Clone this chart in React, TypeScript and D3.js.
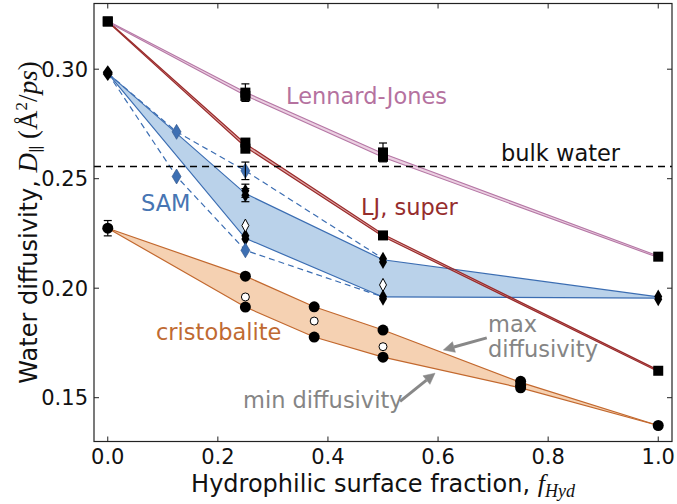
import React from 'react';
import * as d3 from 'd3';

// fraction of hydrophilic surface
const ljX = [0, 0.25, 0.5, 1.0];
const ljMax = [0.322, 0.2895, 0.2615, 0.2147];
const ljMin = [0.3216, 0.288, 0.2598, 0.214];
const ljSuperMax = [0.322, 0.266, 0.2246, 0.1626];
const ljSuperMin = [0.3216, 0.2645, 0.2236, 0.162];

const ljPtsX = [0, 0.25, 0.25, 0.5, 0.5, 1.0];
const ljPtsY = [0.3218, 0.2893, 0.2878, 0.262, 0.26, 0.2144];
const ljPtsErr = [0, 0.004, 0, 0.0043, 0, 0];
const ljSuperPtsX = [0, 0.25, 0.25, 0.5, 1.0];
const ljSuperPtsY = [0.3218, 0.2665, 0.2637, 0.2241, 0.1623];

const samX = [0, 0.25, 0.5, 1.0];
const samMax = [0.2982, 0.2432, 0.213, 0.196];
const samMin = [0.2982, 0.2228, 0.196, 0.1955];
const samDashX = [0, 0.125, 0.25, 0.5];
const samDashUpper = [0.2982, 0.2714, 0.2536, 0.2135];
const samDashLower = [0.2982, 0.251, 0.2173, 0.196];

const samBlackX = [0, 0, 0.25, 0.25, 0.25, 0.25, 0.5, 0.5, 0.5, 0.5, 1.0, 1.0];
const samBlackY = [0.2986, 0.2978, 0.2445, 0.2425, 0.224, 0.2225, 0.2135, 0.212, 0.1962, 0.1952, 0.1962, 0.195];
const samBlackErr = [0, 0, 0.003, 0.003, 0, 0, 0, 0, 0, 0, 0, 0];
const samOpenX = [0.25, 0.5];
const samOpenY = [0.2286, 0.2015];
const samBlueX = [0.125, 0.125, 0.25, 0.25];
const samBlueY = [0.2714, 0.251, 0.2536, 0.2173];
const samBlueErr = [0, 0, 0.004, 0];

const cristX = [0, 0.25, 0.375, 0.5, 0.75, 1.0];
const cristMax = [0.2274, 0.2055, 0.1915, 0.1809, 0.157, 0.1373];
const cristMin = [0.2274, 0.1914, 0.1777, 0.1685, 0.1545, 0.1373];
const cristPtsX = [0, 0.25, 0.25, 0.375, 0.375, 0.5, 0.5, 0.75, 0.75, 0.75, 1.0];
const cristPtsY = [0.2274, 0.2055, 0.1914, 0.1915, 0.1777, 0.1809, 0.1685, 0.1575, 0.1557, 0.1545, 0.1373];
const cristPtsErr = [0.0035, 0, 0, 0, 0, 0, 0, 0, 0, 0, 0];
const cristOpenX = [0.25, 0.375, 0.5];
const cristOpenY = [0.196, 0.185, 0.1733];

const bulkWater = 0.2556;
const xTicks = [0, 0.2, 0.4, 0.6, 0.8, 1.0];
const yTicks = [0.15, 0.2, 0.25, 0.3];

const W = 677;
const H = 504;
const margin = { top: 3.5, right: 5, bottom: 62.5, left: 94 };

const font = '"DejaVu Sans", sans-serif';
const mathFont = '"Liberation Serif", "DejaVu Serif", serif';

const x = d3.scaleLinear().domain([-0.025, 1.025]).range([margin.left, W - margin.right]);
const y = d3.scaleLinear().domain([0.13, 0.33]).range([H - margin.bottom, margin.top]);

type Pt = [number, number];
const zip = (xs: number[], ys: number[]): Pt[] => xs.map((v, i) => [v, ys[i]]);

const line = d3.line<Pt>().x(d => x(d[0])).y(d => y(d[1]));
const band = (xs: number[], hi: number[], lo: number[]) =>
  d3.area<number>()
    .x(i => x(xs[i]))
    .y0(i => y(lo[i]))
    .y1(i => y(hi[i]))(xs.map((_, i) => i)) ?? '';

const ErrBar: React.FC<{ cx: number; cy: number; err: number }> = ({ cx, cy, err }) => {
  if (!err) return null;
  const px = x(cx);
  const y1 = y(cy + err);
  const y2 = y(cy - err);
  return (
    <g stroke="#000" strokeWidth={1.2}>
      <line x1={px} x2={px} y1={y1} y2={y2} />
      <line x1={px - 4} x2={px + 4} y1={y1} y2={y1} />
      <line x1={px - 4} x2={px + 4} y1={y2} y2={y2} />
    </g>
  );
};

const diamond = (w: number, h: number) => `M0,${-h}L${w},0L0,${h}L${-w},0Z`;

const Arrow: React.FC<{ from: Pt; to: Pt }> = ({ from, to }) => {
  const x1 = x(from[0]), y1 = y(from[1]);
  const x2 = x(to[0]), y2 = y(to[1]);
  const ang = Math.atan2(y2 - y1, x2 - x1);
  const hl = 11, hw = 5.5;
  const bx = x2 - hl * Math.cos(ang), by = y2 - hl * Math.sin(ang);
  const nx = -Math.sin(ang), ny = Math.cos(ang);
  return (
    <g fill="#888" stroke="#888">
      <line x1={x1} y1={y1} x2={bx} y2={by} strokeWidth={3} />
      <path d={`M${x2},${y2}L${bx + nx * hw},${by + ny * hw}L${bx - nx * hw},${by - ny * hw}Z`} strokeWidth={0.5} />
    </g>
  );
};

export default function App() {
  const left = margin.left, right = W - margin.right, top = margin.top, bottom = H - margin.bottom;
  return (
    <svg width={W} height={H} style={{ position: 'absolute', left: 0, top: 0, background: '#fff' }} fontFamily={font}>
      {/* bands */}
      <path d={band(cristX, cristMax, cristMin)} fill="#f5d1b2" />
      <path d={band(samX, samMax, samMin)} fill="#bad2ea" />
      <path d={band(ljX, ljSuperMax, ljSuperMin)} fill="#e0a8a8" />
      <path d={band(ljX, ljMax, ljMin)} fill="#ecd0e2" />

      {/* dashed sam lines */}
      <path d={line(zip(samDashX, samDashUpper)) ?? ''} fill="none" stroke="#3b6db2" strokeWidth={1.2} strokeDasharray="6,4" />
      <path d={line(zip(samDashX, samDashLower)) ?? ''} fill="none" stroke="#3b6db2" strokeWidth={1.2} strokeDasharray="6,4" />

      {/* band edges */}
      {[cristMax, cristMin].map((s, i) => (
        <path key={'c' + i} d={line(zip(cristX, s)) ?? ''} fill="none" stroke="#c2682e" strokeWidth={1.2} />
      ))}
      {[samMax, samMin].map((s, i) => (
        <path key={'s' + i} d={line(zip(samX, s)) ?? ''} fill="none" stroke="#3b6db2" strokeWidth={1.2} />
      ))}
      {[ljSuperMax, ljSuperMin].map((s, i) => (
        <path key={'ls' + i} d={line(zip(ljX, s)) ?? ''} fill="none" stroke="#992a2a" strokeWidth={1.2} />
      ))}
      {[ljMax, ljMin].map((s, i) => (
        <path key={'l' + i} d={line(zip(ljX, s)) ?? ''} fill="none" stroke="#b577a5" strokeWidth={1.1} />
      ))}

      {/* bulk water */}
      <line x1={left} x2={right} y1={y(bulkWater)} y2={y(bulkWater)} stroke="#000" strokeWidth={1.5} strokeDasharray="7,5" />

      {/* markers */}
      {cristPtsX.map((v, i) => (
        <g key={'cp' + i}>
          <ErrBar cx={v} cy={cristPtsY[i]} err={cristPtsErr[i]} />
          <circle cx={x(v)} cy={y(cristPtsY[i])} r={5.5} fill="#000" />
        </g>
      ))}
      {cristOpenX.map((v, i) => (
        <circle key={'co' + i} cx={x(v)} cy={y(cristOpenY[i])} r={4} fill="#fff" stroke="#000" strokeWidth={1} />
      ))}
      {samBlackX.map((v, i) => (
        <g key={'sb' + i}>
          <ErrBar cx={v} cy={samBlackY[i]} err={samBlackErr[i]} />
          <path d={diamond(i < 2 ? 5 : 4, 7)} transform={`translate(${x(v)},${y(samBlackY[i])})`} fill="#000" />
        </g>
      ))}
      {samOpenX.map((v, i) => (
        <path key={'so' + i} d={diamond(3.5, 6.5)} transform={`translate(${x(v)},${y(samOpenY[i])})`} fill="#fff" stroke="#000" strokeWidth={1} />
      ))}
      {samBlueX.map((v, i) => (
        <g key={'su' + i}>
          <path d={diamond(4.5, 7.5)} transform={`translate(${x(v)},${y(samBlueY[i])})`} fill="#3e70b3" stroke="#2a4f85" strokeWidth={0.6} />
          <ErrBar cx={v} cy={samBlueY[i]} err={samBlueErr[i]} />
        </g>
      ))}
      {ljPtsX.map((v, i) => (
        <g key={'lp' + i}>
          <ErrBar cx={v} cy={ljPtsY[i]} err={ljPtsErr[i]} />
          <rect x={x(v) - 5} y={y(ljPtsY[i]) - 5} width={10} height={10} fill="#000" />
        </g>
      ))}
      {ljSuperPtsX.map((v, i) => (
        <rect key={'lsp' + i} x={x(v) - 5} y={y(ljSuperPtsY[i]) - 5} width={10} height={10} fill="#000" />
      ))}

      {/* labels */}
      <text x={286} y={104} fontSize={22.5} fill="#b5729f">Lennard-Jones</text>
      <text x={501} y={161} fontSize={22.5} fill="#111">bulk water</text>
      <text x={361} y={215} fontSize={22.5} fill="#962d2d">LJ, super</text>
      <text x={141} y={211} fontSize={22.5} fill="#4775b3">SAM</text>
      <text x={156} y={340} fontSize={22.5} fill="#c06a32">cristobalite</text>
      <text x={243} y={408} fontSize={22.5} fill="#858585">min diffusivity</text>
      <text x={488} y={332} fontSize={22.5} fill="#858585">max</text>
      <text x={488} y={357} fontSize={22.5} fill="#858585">diffusivity</text>
      <Arrow from={[0.6885, 0.1773]} to={[0.6096, 0.1718]} />
      <Arrow from={[0.531, 0.1483]} to={[0.5945, 0.1612]} />

      {/* frame & ticks */}
      <rect x={left} y={top} width={right - left} height={bottom - top} fill="none" stroke="#222" strokeWidth={1.2} />
      {xTicks.map(t => (
        <g key={'xt' + t}>
          <line x1={x(t)} x2={x(t)} y1={bottom} y2={bottom - 5} stroke="#222" />
          <line x1={x(t)} x2={x(t)} y1={top} y2={top + 5} stroke="#222" />
          <text x={x(t)} y={464} fontSize={21} textAnchor="middle" fill="#111">{t.toFixed(1)}</text>
        </g>
      ))}
      {yTicks.map(t => (
        <g key={'yt' + t}>
          <line x1={left} x2={left + 5} y1={y(t)} y2={y(t)} stroke="#222" />
          <line x1={right} x2={right - 5} y1={y(t)} y2={y(t)} stroke="#222" />
          <text x={88} y={y(t) + 7.5} fontSize={21} textAnchor="end" fill="#111">{t.toFixed(2)}</text>
        </g>
      ))}

      {/* axis labels */}
      <text x={(left + right) / 2} y={492} fontSize={24} textAnchor="middle" fill="#111">
        Hydrophilic surface fraction,{' '}
        <tspan fontFamily={mathFont} fontStyle="italic" fontSize={26}>f</tspan>
        <tspan fontFamily={mathFont} fontStyle="italic" fontSize={18} dy={5}>Hyd</tspan>
      </text>
      <text transform={`translate(37,${(top + bottom) / 2}) rotate(-90)`} fontSize={24} textAnchor="middle" fill="#111">
        Water diffusivity,{' '}
        <tspan fontFamily={mathFont} fontStyle="italic" fontSize={27}>D</tspan>
        <tspan fontFamily={mathFont} fontSize={16} dy={5}>∥</tspan>
        <tspan fontFamily={mathFont} fontSize={27} dy={-5}> (Å</tspan>
        <tspan fontFamily={mathFont} fontSize={17} dy={-10}>2</tspan>
        <tspan fontFamily={mathFont} fontSize={27} dy={10}>/</tspan>
        <tspan fontFamily={mathFont} fontStyle="italic" fontSize={27}>ps</tspan>
        <tspan fontFamily={mathFont} fontSize={27}>)</tspan>
      </text>
    </svg>
  );
}
